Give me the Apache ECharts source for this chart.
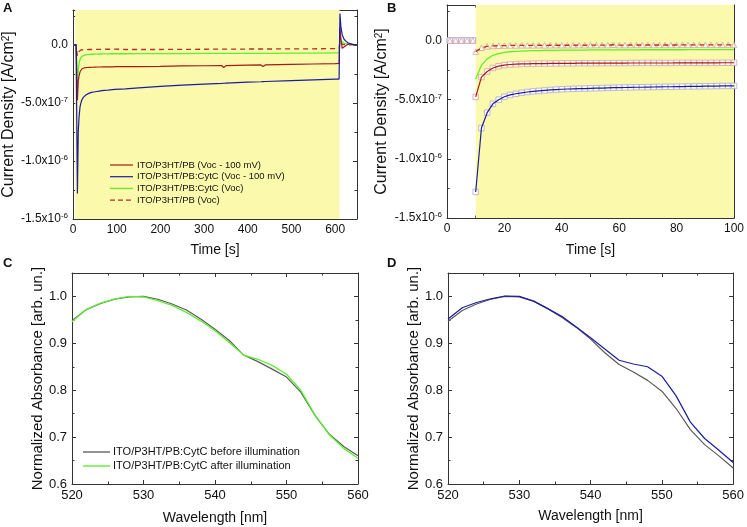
<!DOCTYPE html>
<html><head><meta charset="utf-8">
<script src="https://cdn.jsdelivr.net/npm/echarts@6/dist/echarts.min.js"></script>
<style>html,body{margin:0;padding:0;background:#fff}#c{width:747px;height:527px}</style>
</head><body><div id="c"></div>
<script>
// Current density values are in units of 1e-7 A/cm^2
const tPre = [1, 3, 5, 7, 9];
const redPre = [0, 0, 0, 0, 0];
const bluePre = [0, 0, 0, 0, 0];
const greenPre = [0, 0, 0, 0, 0];
const dashPre = [0, 0, 0, 0, 0];

const tEarly = [10,12,14,16,18,20,22,24,26,28,30,32,34,36,38,40,42,44,46,48,50,52,54,56,58,60,62,64,66,68,70,72,74,76,78,80,82,84,86,88,90,92,94,96,98,100];
const redEarly = [-4.77,-3.10,-2.62,-2.32,-2.17,-2.08,-2.03,-2.00,-1.98,-1.97,-1.96,-1.95,-1.95,-1.94,-1.94,-1.93,-1.93,-1.93,-1.92,-1.92,-1.92,-1.92,-1.91,-1.91,-1.91,-1.91,-1.91,-1.90,-1.90,-1.90,-1.90,-1.90,-1.90,-1.90,-1.90,-1.89,-1.89,-1.89,-1.89,-1.89,-1.89,-1.89,-1.89,-1.88,-1.88,-1.88];
const blueEarly = [-12.80,-7.40,-6.10,-5.35,-5.00,-4.75,-4.60,-4.50,-4.42,-4.35,-4.30,-4.26,-4.22,-4.18,-4.15,-4.12,-4.10,-4.08,-4.07,-4.06,-4.04,-4.03,-4.02,-4.00,-3.99,-3.98,-3.97,-3.96,-3.95,-3.95,-3.94,-3.93,-3.92,-3.91,-3.91,-3.90,-3.89,-3.88,-3.88,-3.87,-3.86,-3.86,-3.85,-3.84,-3.84,-3.83];
const greenEarly = [-3.26,-2.10,-1.55,-1.25,-1.10,-1.00,-0.95,-0.92,-0.90,-0.88,-0.86,-0.85,-0.84,-0.83,-0.83,-0.82,-0.82,-0.81,-0.81,-0.81,-0.80,-0.80,-0.80,-0.80,-0.79,-0.79,-0.79,-0.79,-0.79,-0.78,-0.78,-0.78,-0.78,-0.78,-0.78,-0.78,-0.78,-0.77,-0.77,-0.77,-0.77,-0.77,-0.77,-0.77,-0.77,-0.77];
const dashEarly = [-0.94,-0.62,-0.50,-0.46,-0.44,-0.43,-0.42,-0.42,-0.41,-0.41,-0.41,-0.40,-0.41,-0.40,-0.40,-0.40,-0.40,-0.40,-0.39,-0.40,-0.39,-0.39,-0.39,-0.39,-0.36,-0.39,-0.39,-0.38,-0.38,-0.38,-0.38,-0.38,-0.38,-0.38,-0.38,-0.38,-0.37,-0.38,-0.37,-0.37,-0.37,-0.37,-0.37,-0.37,-0.37,-0.37];

const tLate = [120,150,200,250,300,340,345,350,400,430,435,440,500,550,600,609,610,611,613,616,620,625,630,640,650];
const redLate = [-1.88,-1.87,-1.85,-1.82,-1.80,-1.78,-1.95,-1.79,-1.75,-1.73,-1.86,-1.73,-1.69,-1.65,-1.61,-1.60,-1.60,1.50,0.60,-0.30,-0.20,-0.05,0.05,0.05,0];
const blueLate = [-3.79,-3.70,-3.58,-3.47,-3.38,-3.32,-3.31,-3.30,-3.22,-3.18,-3.17,-3.16,-3.08,-3.02,-2.96,-2.95,-2.95,2.70,1.60,0.90,0.50,0.30,0.15,0.05,0];
const greenLate = [-0.77,-0.76,-0.75,-0.75,-0.74,-0.74,-0.74,-0.74,-0.73,-0.73,-0.73,-0.73,-0.72,-0.71,-0.70,-0.70,-0.70,0.60,0.35,0.25,0.15,0.10,0.05,0.02,0];
const dashLate = [-0.40,-0.40,-0.40,-0.39,-0.38,-0.37,-0.37,-0.37,-0.36,-0.36,-0.36,-0.36,-0.35,-0.34,-0.33,-0.33,-0.33,0.30,0.15,0.05,0.02,0,0,0,0];

const lightWindowA = [5, 610];
const lightWindowB = [10, 100];

const wavelength = [520,522,524,526,528,530,532,534,536,538,540,542,544,546,548,550,552,554,556,558,560];
const cBefore = [0.948,0.972,0.985,0.994,0.999,1.000,0.994,0.984,0.971,0.952,0.930,0.906,0.875,0.861,0.845,0.828,0.796,0.746,0.706,0.680,0.660];
const cAfter  = [0.946,0.972,0.986,0.995,1.000,0.999,0.991,0.981,0.966,0.948,0.927,0.902,0.875,0.866,0.853,0.834,0.800,0.747,0.705,0.676,0.655];
const dBefore = [0.947,0.970,0.984,0.994,1.000,0.999,0.990,0.974,0.955,0.934,0.909,0.880,0.855,0.839,0.821,0.798,0.761,0.716,0.684,0.660,0.634];
const dAfter  = [0.952,0.976,0.987,0.995,1.001,1.000,0.990,0.974,0.957,0.935,0.912,0.888,0.864,0.856,0.850,0.830,0.788,0.732,0.697,0.672,0.646];

const namesA = ['ITO/P3HT/PB (Voc - 100 mV)','ITO/P3HT/PB:CytC (Voc - 100 mV)','ITO/P3HT/PB:CytC (Voc)','ITO/P3HT/PB (Voc)'];
const namesC = ['ITO/P3HT/PB:CytC before illumination','ITO/P3HT/PB:CytC after illumination'];
const yTickLabelsJ = {'0':'0.0','-5':'-5.0x10{sup|-7}','-10':'-1.0x10{sup|-6}','-15':'-1.5x10{sup|-6}'};
const panelLetters = ['A','B','C','D'];

const zip = (a, b) => a.map((x, i) => [x, b[i]]);
const FONT = '"Liberation Sans", Arial, sans-serif';
const AX = '#333';
const RED = '#a31b1b', BLUE = '#1c1ca3', GREEN = '#5ef02e', DASH = '#b3302c', GRAY = '#5a5a5a';

function xAx(grid, min, max, interval, showLabel, name, nameGap, pos, fs) {
  return {
    type: 'value', gridIndex: grid, min, max, interval, position: pos,
    name: showLabel ? name : '', nameLocation: 'middle', nameGap,
    nameTextStyle: { fontFamily: FONT, fontSize: 14, color: '#111' },
    axisLine: { show: true, onZero: false, lineStyle: { color: AX, width: 1 } },
    axisTick: { show: true, inside: true, length: 4, lineStyle: { color: AX } },
    minorTick: { show: true, splitNumber: 2, length: 2.5, lineStyle: { color: AX } },
    splitLine: { show: false },
    axisLabel: { show: showLabel, margin: 5, fontFamily: FONT, fontSize: fs || 12, color: '#111',
      formatter: v => (v % interval === 0 ? String(v) : '') }
  };
}
function yAxJ(grid, showLabel, pos, nameGap) {
  return {
    type: 'value', gridIndex: grid, min: -15, max: 3, interval: 5, position: pos,
    name: showLabel ? 'Current Density [A/cm{sup|2}]' : '', nameLocation: 'middle', nameGap,
    nameTextStyle: { fontFamily: FONT, fontSize: 16, color: '#111',
      rich: { sup: { fontFamily: FONT, fontSize: 10, verticalAlign: 'top', lineHeight: 10, color: '#111' } } },
    axisLine: { show: true, onZero: false, lineStyle: { color: AX, width: 1 } },
    axisTick: { show: true, inside: true, length: 4, lineStyle: { color: AX } },
    minorTick: { show: true, splitNumber: 2, length: 2.5, lineStyle: { color: AX } },
    splitLine: { show: false },
    axisLabel: { show: showLabel, margin: 5, fontFamily: FONT, fontSize: 12, color: '#111', lineHeight: 14,
      formatter: v => (yTickLabelsJ[String(v)] !== undefined ? yTickLabelsJ[String(v)] : ''),
      rich: { sup: { fontFamily: FONT, fontSize: 8, verticalAlign: 'top', lineHeight: 8, color: '#111' } } }
  };
}
function yAxAbs(grid, showLabel, pos, nameGap) {
  return {
    type: 'value', gridIndex: grid, min: 0.6, max: 1.05, interval: 0.1, position: pos,
    name: showLabel ? 'Normalized Absorbance [arb. un.]' : '', nameLocation: 'middle', nameGap,
    nameTextStyle: { fontFamily: FONT, fontSize: 15, color: '#111' },
    axisLine: { show: true, onZero: false, lineStyle: { color: AX, width: 1 } },
    axisTick: { show: true, inside: true, length: 4, lineStyle: { color: AX } },
    minorTick: { show: true, splitNumber: 2, length: 2.5, lineStyle: { color: AX } },
    splitLine: { show: false },
    axisLabel: { show: showLabel, margin: 5, fontFamily: FONT, fontSize: 13, color: '#111',
      formatter: v => (v > 1.01 ? '' : v.toFixed(1)) }
  };
}

const grids = [
  { left: 72, right: 390, top: 10, bottom: 308 },
  { left: 447, right: 11, top: 5, bottom: 309 },
  { left: 72, right: 389, top: 273, bottom: 43 },
  { left: 448, right: 13, top: 273, bottom: 43 }
];

const xAxes = [
  xAx(0, 0, 650, 100, true, 'Time [s]', 24, 'bottom'),
  xAx(0, 0, 650, 100, false, '', 0, 'top'),
  xAx(1, 0, 100, 20, true, 'Time [s]', 25, 'bottom'),
  xAx(1, 0, 100, 20, false, '', 0, 'top'),
  xAx(2, 520, 560, 10, true, 'Wavelength [nm]', 27, 'bottom', 13),
  xAx(2, 520, 560, 10, false, '', 0, 'top'),
  xAx(3, 520, 560, 10, true, 'Wavelength [nm]', 25, 'bottom', 13),
  xAx(3, 520, 560, 10, false, '', 0, 'top')
];
const yAxes = [
  yAxJ(0, true, 'left', 56), yAxJ(0, false, 'right', 0),
  yAxJ(1, true, 'left', 57), yAxJ(1, false, 'right', 0),
  yAxAbs(2, true, 'left', 25), yAxAbs(2, false, 'right', 0),
  yAxAbs(3, true, 'left', 26), yAxAbs(3, false, 'right', 0)
];

const yellow = { color: '#fbf9ab', opacity: 1 };
const lineBase = (name, xi, yi, data, color, width, type) => ({
  name, type: 'line', xAxisIndex: xi, yAxisIndex: yi, data, symbol: 'none', z: 3,
  lineStyle: { color, width: width || 1.2, type: type || 'solid' }, itemStyle: { color },
  animation: false, clip: true
});
const marker = (name, xi, yi, data, symbol, color) => ({
  name, type: 'scatter', xAxisIndex: xi, yAxisIndex: yi, data, symbol, symbolSize: 5.5, z: 2,
  itemStyle: { color: '#ffffff', borderColor: color, borderWidth: 1 }, animation: false, clip: false
});

const tAll = tPre.concat(tEarly, tLate);
const series = [
  { type: 'line', xAxisIndex: 0, yAxisIndex: 0, data: [], z: 1, silent: true,
    markArea: { silent: true, itemStyle: yellow, data: [[{ xAxis: lightWindowA[0] }, { xAxis: lightWindowA[1] }]] } },
  { type: 'line', xAxisIndex: 2, yAxisIndex: 2, data: [], z: 1, silent: true,
    markArea: { silent: true, itemStyle: yellow, data: [[{ xAxis: lightWindowB[0] }, { xAxis: lightWindowB[1] }]] } },
  lineBase(namesA[3], 0, 0, zip(tAll, dashPre.concat(dashEarly, dashLate)), DASH, 1.3, [5, 4]),
  lineBase(namesA[2], 0, 0, zip(tAll, greenPre.concat(greenEarly, greenLate)), GREEN, 1.3),
  lineBase(namesA[0], 0, 0, zip(tAll, redPre.concat(redEarly, redLate)), RED, 1.2),
  lineBase(namesA[1], 0, 0, zip(tAll, bluePre.concat(blueEarly, blueLate)), BLUE, 1.2),
  marker('mRed', 2, 2, zip(tPre.concat(tEarly), redPre.concat(redEarly)), 'rect', '#d9a0ab'),
  marker('mBlue', 2, 2, zip(tPre.concat(tEarly), bluePre.concat(blueEarly)), 'rect', '#b0aadb'),
  marker('mDash', 2, 2, zip(tPre.concat(tEarly), dashPre.concat(dashEarly)), 'triangle', '#d5a3a3'),
  lineBase('bDash', 2, 2, zip(tEarly, dashEarly), DASH, 1.3, [5, 4]),
  lineBase('bGreen', 2, 2, zip(tEarly, greenEarly), GREEN, 1.3),
  lineBase('bRed', 2, 2, zip(tEarly, redEarly), RED, 1.2),
  lineBase('bBlue', 2, 2, zip(tEarly, blueEarly), BLUE, 1.2),
  lineBase(namesC[0], 4, 4, zip(wavelength, cBefore), GRAY, 1.2),
  lineBase(namesC[1], 4, 4, zip(wavelength, cAfter), GREEN, 1.3),
  lineBase('dBefore', 6, 6, zip(wavelength, dBefore), GRAY, 1.2),
  lineBase('dAfter', 6, 6, zip(wavelength, dAfter), BLUE, 1.2)
];

// Legend keys drawn as graphic elements (line sample + text)
const legendA = { x: 110, y: 165, len: 23, gap: 4, step: 11.7, font: '9.5px ' + FONT,
  colors: [RED, BLUE, GREEN, DASH], dashes: [null, null, null, [5, 3]], widths: [1.2, 1.2, 1.3, 1.3] };
const legendC = { x: 83, y: 452, len: 27, gap: 3, step: 14, font: '11px ' + FONT,
  colors: [GRAY, GREEN], dashes: [null, null], widths: [1.3, 1.4] };
function legendGraphics(names, L) {
  const out = [];
  names.forEach((n, i) => {
    const y = L.y + i * L.step;
    out.push({ type: 'line', silent: true, z: 10,
      shape: { x1: L.x, y1: y, x2: L.x + L.len, y2: y },
      style: { stroke: L.colors[i], lineWidth: L.widths[i], lineDash: L.dashes[i] } });
    out.push({ type: 'text', silent: true, z: 10, x: L.x + L.len + L.gap, y: y,
      style: { text: n, font: L.font, fill: '#111', verticalAlign: 'middle', align: 'left' } });
  });
  return out;
}

const letterPos = [[3, 2], [387, 2], [3, 257], [387, 257]];
const option = {
  animation: false,
  backgroundColor: '#fff',
  grid: grids.map(g => Object.assign({ containLabel: false, show: false }, g)),
  xAxis: xAxes,
  yAxis: yAxes,
  graphic: panelLetters.map((L, i) => ({
    type: 'text', left: letterPos[i][0], top: letterPos[i][1],
    style: { text: L, font: 'bold 13px ' + FONT, fill: '#111' }
  })).concat(legendGraphics(namesA, legendA), legendGraphics(namesC, legendC)),
  series
};
const chart = echarts.init(document.getElementById('c'), null, { renderer: 'canvas' });
chart.setOption(option);
</script></body></html>
